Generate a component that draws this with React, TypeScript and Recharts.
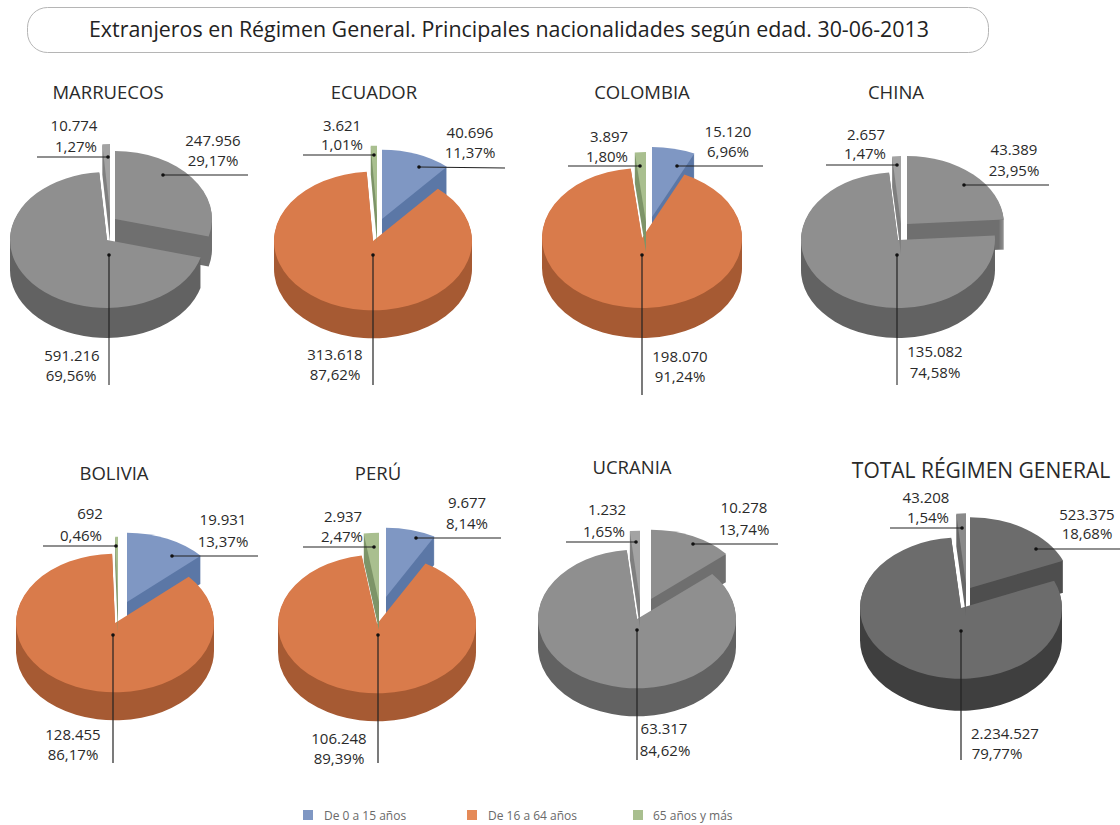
import { Legend, Pie, PieChart } from 'recharts'

const FONT = '"Open Sans", sans-serif'
const TILT = 0.7

const ageGroups = ['De 0 a 15 años', 'De 16 a 64 años', '65 años y más']
const legendColors = ['#7f97c3', '#e58a58', '#a9bf8f']

const countries = ['MARRUECOS', 'ECUADOR', 'COLOMBIA', 'CHINA', 'BOLIVIA', 'PERÚ', 'UCRANIA', 'TOTAL RÉGIMEN GENERAL']

const valuesByCountry = [
  [247956, 591216, 10774],
  [40696, 313618, 3621],
  [15120, 198070, 3897],
  [43389, 135082, 2657],
  [19931, 128455, 692],
  [9677, 106248, 2937],
  [10278, 63317, 1232],
  [523375, 2234527, 43208],
]

const percentsByCountry = [
  ['29,17%', '69,56%', '1,27%'],
  ['11,37%', '87,62%', '1,01%'],
  ['6,96%', '91,24%', '1,80%'],
  ['23,95%', '74,58%', '1,47%'],
  ['13,37%', '86,17%', '0,46%'],
  ['8,14%', '89,39%', '2,47%'],
  ['13,74%', '84,62%', '1,65%'],
  ['18,68%', '79,77%', '1,54%'],
]

// top / side colours per age group
const colorTop = [
  ['#8f8f8f', '#8f8f8f', '#a3a3a3'],
  ['#7f97c3', '#d97b4b', '#a9bf8f'],
  ['#7f97c3', '#d97b4b', '#a9bf8f'],
  ['#8f8f8f', '#8f8f8f', '#a3a3a3'],
  ['#7f97c3', '#d97b4b', '#a9bf8f'],
  ['#7f97c3', '#d97b4b', '#a9bf8f'],
  ['#8f8f8f', '#8f8f8f', '#a3a3a3'],
  ['#6c6c6c', '#6c6c6c', '#8a8a8a'],
]
const colorSide = [
  ['#6f6f6f', '#626262', '#7f7f7f'],
  ['#5b77a6', '#a65a33', '#7d9468'],
  ['#5b77a6', '#a65a33', '#7d9468'],
  ['#6f6f6f', '#626262', '#7f7f7f'],
  ['#5b77a6', '#a65a33', '#7d9468'],
  ['#5b77a6', '#a65a33', '#7d9468'],
  ['#6f6f6f', '#626262', '#7f7f7f'],
  ['#4e4e4e', '#3f3f3f', '#666666'],
]

// cx, cy, radius, depth
const pieBoxes = [
  [107, 240, 97, 30],
  [373, 241, 99, 28],
  [642, 238, 100, 30],
  [898, 240, 97, 30],
  [115, 623, 99, 28],
  [377, 624, 99, 28],
  [637, 619, 99, 28],
  [961, 608, 101, 32],
]

// how far each slice is pulled out of the pie: [dx, dy] per age group
const explode = [
  [[8, -21], [0, 0], [3, -28]],
  [[9, -22], [0, 0], [4, -26]],
  [[10, -21], [0, 0], [4, -16]],
  [[9, -16], [0, 0], [3, -16]],
  [[12, -21], [0, 0], [3, -17]],
  [[9, -27], [0, 0], [2, -22]],
  [[14, -20], [0, 0], [3, -19]],
  [[9, -20], [0, 0], [5, -24]],
]

const titleSpots = [
  [108, 93, 18.5],
  [374, 93, 18.5],
  [642, 93, 18.5],
  [896, 93, 18.5],
  [114, 474, 18.5],
  [378, 474, 18.5],
  [632, 468, 18.5],
  [981, 471, 21],
]

// value centre x, value y, percent centre x, percent y, per age group
const labelSpots = [
  [[213, 141, 213, 161], [72, 356, 71, 376], [74, 126, 76, 147]],
  [[470, 133, 470, 153], [335, 355, 335, 375], [342, 126, 342, 145]],
  [[728, 132, 728, 152], [680, 357, 680, 377], [609, 137, 607, 157]],
  [[1014, 150, 1014, 171], [935, 352, 935, 373], [866, 135, 865, 154]],
  [[223, 520, 223, 542], [73, 735, 73, 755], [90, 514, 81, 536]],
  [[467, 503, 467, 524], [339, 739, 339, 759], [343, 517, 342, 537]],
  [[744, 508, 744, 530], [664, 729, 665, 751], [607, 510, 604, 532]],
  [[1087, 515, 1087, 534], [1005, 734, 997, 754], [926, 498, 928, 518]],
]

// x1, y1 (dot end), x2, y2
const leaders = [
  [[163, 175, 248, 175], [109, 255, 109, 385], [108, 157, 37, 157]],
  [[419, 167, 505, 168], [373, 255, 373, 385], [374, 155, 303, 155]],
  [[677, 166, 763, 166], [642, 255, 642, 395], [640, 166, 568, 166]],
  [[964, 185, 1049, 185], [897, 255, 897, 385], [897, 165, 826, 165]],
  [[172, 556, 258, 556], [113, 635, 113, 763], [116, 546, 43, 546]],
  [[416, 538, 501, 538], [378, 635, 378, 763], [374, 547, 303, 547]],
  [[693, 544, 778, 544], [637, 630, 637, 760], [636, 542, 566, 542]],
  [[1036, 549, 1120, 549], [961, 631, 961, 760], [962, 528, 890, 528]],
]

// outer stretches of the leaders that fade to grey in the reference
const fadedLeaders = [
  [109, 338, 109, 385],
  [37, 157, 98, 157],
  [1002, 185, 1049, 185],
  [897, 338, 897, 385],
  [566, 542, 630, 542],
  [730, 544, 778, 544],
  [43, 546, 108, 546],
]

const legendSwatchX = [303, 467, 633]
const legendTextX = [324, 488, 653]

function formatThousands(value: number) {
  return String(value).replace(/\B(?=(\d{3})+$)/g, '.')
}

function sectorPath(cx: number, cy: number, r: number, startAngle: number, endAngle: number) {
  const rad = Math.PI / 180
  const rY = r * TILT
  const x1 = cx + r * Math.cos(startAngle * rad)
  const y1 = cy - rY * Math.sin(startAngle * rad)
  const x2 = cx + r * Math.cos(endAngle * rad)
  const y2 = cy - rY * Math.sin(endAngle * rad)
  const large = Math.abs(startAngle - endAngle) > 180 ? 1 : 0
  return `M${cx},${cy}L${x1},${y1}A${r},${rY} 0 ${large} 1 ${x2},${y2}Z`
}

// Recharts works out the angles; the slice is then squashed and extruded here
function tiltedSlice(pieIndex: number, depth: number) {
  return (props: any) => {
    const group = ageGroups.indexOf(props.name ?? props.payload?.name)
    const [dx, dy] = explode[pieIndex][group]
    const cx = props.cx + dx
    const cy = props.cy + dy
    let side = ''
    for (let d = depth; d >= 1; d--) {
      side += sectorPath(cx, cy + d, props.outerRadius, props.startAngle, props.endAngle)
    }
    return (
      <g>
        <path d={side} fill={colorSide[pieIndex][group]} />
        <path d={sectorPath(cx, cy, props.outerRadius, props.startAngle, props.endAngle)} fill={colorTop[pieIndex][group]} />
      </g>
    )
  }
}

function AgeLegend() {
  return (
    <div style={{ position: 'relative', width: 1120, height: 20, fontFamily: FONT, fontSize: 12, color: '#6a6a6a' }}>
      {ageGroups.map((group, i) => (
        <div key={group}>
          <span style={{ position: 'absolute', left: legendSwatchX[i], top: 3, width: 10, height: 10, background: legendColors[i] }} />
          <span style={{ position: 'absolute', left: legendTextX[i], top: 0, whiteSpace: 'nowrap' }}>{group}</span>
        </div>
      ))}
    </div>
  )
}

export default function App() {
  return (
    <div style={{ position: 'fixed', left: 0, top: 0, width: 1120, height: 825, background: '#fff', overflow: 'hidden' }}>
      <PieChart width={1120} height={825} margin={{ top: 0, right: 0, bottom: 0, left: 0 }}>
        {countries.map((country, i) => (
          <Pie
            key={country}
            data={valuesByCountry[i].map((value, g) => ({ name: ageGroups[g], value }))}
            dataKey="value"
            nameKey="name"
            cx={pieBoxes[i][0]}
            cy={pieBoxes[i][1]}
            outerRadius={pieBoxes[i][2]}
            startAngle={90}
            endAngle={-270}
            stroke="none"
            label={false}
            labelLine={false}
            shape={tiltedSlice(i, pieBoxes[i][3])}
            isAnimationActive={false}
          />
        ))}
        <Legend
          content={<AgeLegend />}
          wrapperStyle={{ position: 'absolute', left: 0, top: 807, width: 1120 }}
        />
      </PieChart>

      <svg width={1120} height={825} style={{ position: 'absolute', left: 0, top: 0, pointerEvents: 'none' }}>
        <rect x={27.5} y={7.5} width={961} height={45} rx={20} fill="none" stroke="#b5b5b5" />
        <text x={509} y={30} dy="0.35em" textAnchor="middle" fontFamily={FONT} fontSize={21.4} fill="#222">
          Extranjeros en Régimen General. Principales nacionalidades según edad. 30-06-2013
        </text>
        {countries.map((country, i) => (
          <g key={country} fontFamily={FONT} fill="#2a2a2a">
            <text x={titleSpots[i][0]} y={titleSpots[i][1]} dy="0.35em" textAnchor="middle" fontSize={titleSpots[i][2]}>
              {country}
            </text>
            {valuesByCountry[i].map((value, g) => (
              <g key={g} fontSize={15} textAnchor="middle">
                <text x={labelSpots[i][g][0]} y={labelSpots[i][g][1]} dy="0.35em">{formatThousands(value)}</text>
                <text x={labelSpots[i][g][2]} y={labelSpots[i][g][3]} dy="0.35em">{percentsByCountry[i][g]}</text>
              </g>
            ))}
            {leaders[i].map((l, g) => (
              <g key={g}>
                <line x1={l[0]} y1={l[1]} x2={l[2]} y2={l[3]} stroke="#222" strokeWidth={1.2} />
                <circle cx={l[0]} cy={l[1]} r={1.8} fill="#111" />
              </g>
            ))}
          </g>
        ))}
        {fadedLeaders.map((l) => (
          <line key={l.join()} x1={l[0]} y1={l[1]} x2={l[2]} y2={l[3]} stroke="#8f8f8f" strokeWidth={1.4} />
        ))}
      </svg>
    </div>
  )
}
